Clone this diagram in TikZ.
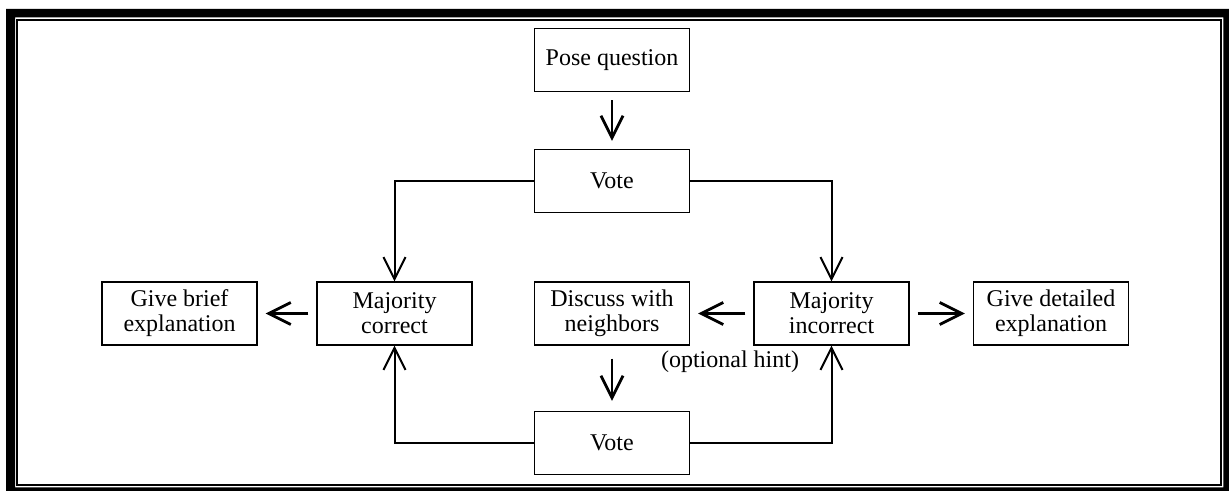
\documentclass[tikz,border=0pt]{standalone}
\usepackage{fontspec}
\setmainfont{Liberation Serif}
\usetikzlibrary{arrows.meta}

\begin{document}
\begin{tikzpicture}[
  x=0.5pt, y=-0.5pt,
  stepbox/.style={rectangle, draw, line width=0.7pt, minimum width=77.5pt, minimum height=31.5pt, align=center, inner sep=1pt, font=\fontsize{12}{12.5}\selectfont},
  flow/.style={->, line width=1.4pt, shorten <=4pt, shorten >=4pt},
  elbow/.style={->, line width=1pt},
  >={Straight Barb[length=11pt,width=11pt]}
]
\useasboundingbox (0,0) rectangle (1229,491);
% Double frame round the whole figure
\fill[even odd rule] (6,9) rectangle (1229,491) (15,17.3) rectangle (1223.3,487.3);
\draw[line width=0.85pt] (16.9,20) rectangle (1220.9,485);

% Boxes
\node[stepbox] (pose)      at (612,60)      {Pose question};
\node[stepbox] (vote1)     at (612,181)     {Vote};
\node[stepbox] (correct)   at (394.5,313.5) {Majority\\correct};
\node[stepbox] (incorrect) at (831.5,313.5) {Majority\\incorrect};
\node[stepbox] (brief)     at (179.5,313.5) {Give brief\\explanation};
\node[stepbox] (detailed)  at (1051,313.5)  {Give detailed\\explanation};
\node[stepbox] (discuss)   at (612,313.5)   {Discuss with\\neighbors};
\node[stepbox] (vote2)     at (612,443)     {Vote};
\node[font=\fontsize{12}{12.5}\selectfont] (hint) at (730,362) {(optional hint)};

% Arrows
\draw[flow] (pose) -- (vote1);
\draw[flow] (correct) -- (brief);
\draw[flow] (incorrect) -- (discuss);
\draw[flow] (incorrect) -- (detailed);
\draw[flow, shorten <=6.5pt, shorten >=5pt] (discuss) -- (vote2);
\draw[elbow] (vote1.west) -| (correct.north);
\draw[elbow] (vote1.east) -| (incorrect.north);
\draw[elbow] (vote2.west) -| (correct.south);
\draw[elbow] (vote2.east) -| (incorrect.south);
\end{tikzpicture}
\end{document}
